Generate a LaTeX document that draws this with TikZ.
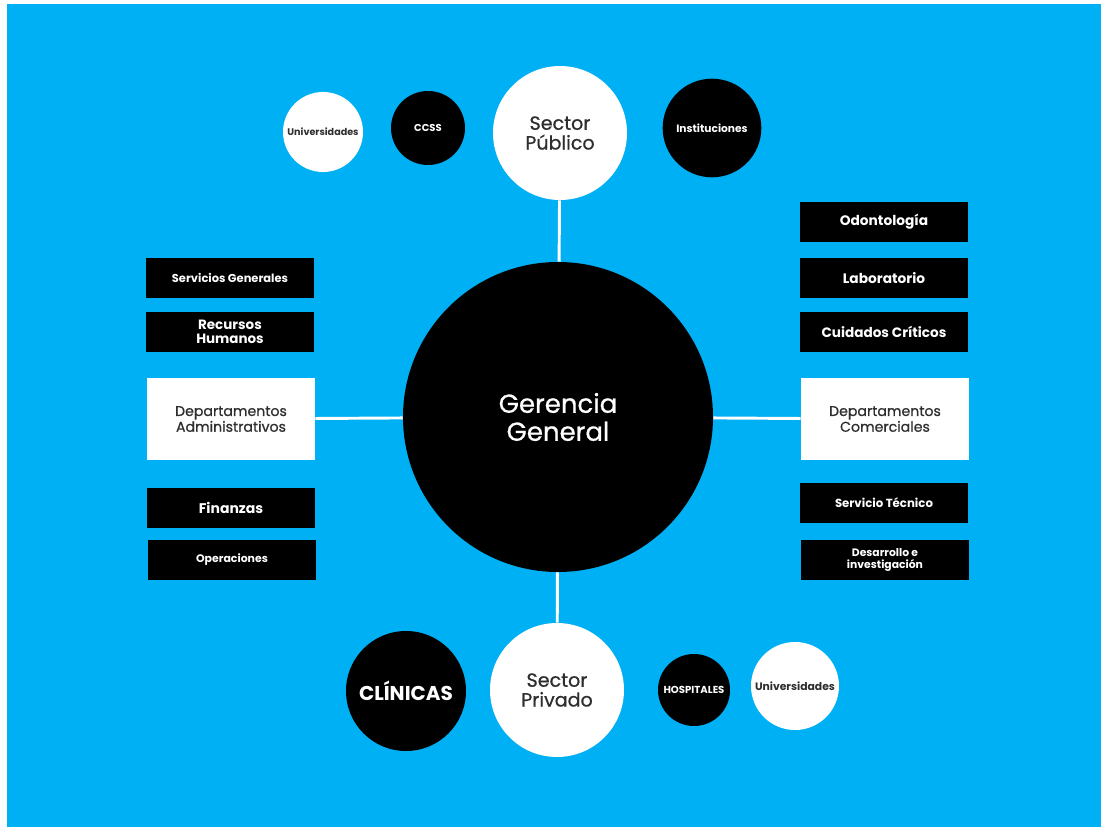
\documentclass[tikz,border=0pt]{standalone}
\usepackage{fontspec}
\setmainfont{Poppins}
\newfontfamily\mediumfont{Poppins}[FakeBold=0.7]
\definecolor{skyblue}{HTML}{00B0F5}
\definecolor{darktext}{HTML}{2E2E2E}
\begin{document}
\begin{tikzpicture}[x=0.75pt,y=-0.75pt,
  blackcirc/.style={circle, fill=black, inner sep=0pt, text=white, align=center},
  whitecirc/.style={circle, fill=white, inner sep=0pt, text=darktext, align=center},
  blackbox/.style={fill=black, text=white, inner sep=0pt, minimum width=126pt, minimum height=30pt, align=center, font=\bfseries\fontsize{8.2}{9}\selectfont},
  whitebox/.style={fill=white, text=darktext, inner sep=0pt, minimum width=126pt, minimum height=61.5pt, align=center, font=\mediumfont\fontsize{10.6}{10.8}\selectfont},
  link/.style={draw=white, line width=2.2pt}]
\useasboundingbox (0,0) rectangle (1101,827);
\fill[skyblue] (7,4) rectangle (1101,827);

\node[blackcirc, minimum size=232.5pt, font=\mediumfont\fontsize{19.5}{21}\selectfont] (gerencia) at (558,417) {Gerencia\\General};

\node[whitecirc, minimum size=100.5pt, font=\mediumfont\fontsize{14.3}{14.8}\selectfont] (publico) at (560,133) {Sector\\Público};
\node[whitecirc, minimum size=100.5pt, font=\mediumfont\fontsize{14.3}{14.8}\selectfont] (privado) at (557,690) {Sector\\Privado};

\node[whitecirc, minimum size=60pt, font=\bfseries\fontsize{7.2}{8}\selectfont] (univ1) at (323,132) {Universidades};
\node[blackcirc, minimum size=55.5pt, font=\bfseries\fontsize{7.5}{8}\selectfont] (ccss) at (428,128) {CCSS};
\node[blackcirc, minimum size=74pt, font=\bfseries\fontsize{8}{9}\selectfont] (instit) at (712,128) {Instituciones};

\node[blackcirc, minimum size=90pt, font=\bfseries\fontsize{15}{16}\selectfont] (clinicas) at (406,691) {CLÍNICAS};
\node[blackcirc, minimum size=54pt, font=\bfseries\fontsize{7.6}{8}\selectfont] (hospit) at (694,690) {HOSPITALES};
\node[whitecirc, minimum size=66pt, font=\bfseries\fontsize{8.1}{9}\selectfont] (univ2) at (795,686) {Universidades};

% departamentos administrativos
\node[blackbox, font=\bfseries\fontsize{8.6}{9}\selectfont] (servgen) at (230,278) {Servicios Generales};
\node[blackbox, font=\bfseries\fontsize{10.1}{10.5}\selectfont] (rrhh) at (230,332) {Recursos\\Humanos};
\node[whitebox] (admin) at (231,419) {Departamentos\\Administrativos};
\node[blackbox, font=\bfseries\fontsize{10.5}{11}\selectfont] (finanzas) at (231,508) {Finanzas};
\node[blackbox] (operac) at (232,560) {Operaciones};

% departamentos comerciales
\node[blackbox, font=\bfseries\fontsize{10.3}{11}\selectfont] (odonto) at (884,222) {Odontología};
\node[blackbox, font=\bfseries\fontsize{10.3}{11}\selectfont] (labor) at (884,278) {Laboratorio};
\node[blackbox, font=\bfseries\fontsize{10.2}{11}\selectfont] (cuidados) at (884,332) {Cuidados Críticos};
\node[whitebox] (comerc) at (885,419) {Departamentos\\Comerciales};
\node[blackbox, font=\bfseries\fontsize{8.8}{9}\selectfont] (servtec) at (884,503) {Servicio Técnico};
\node[blackbox, font=\bfseries\fontsize{8.1}{9}\selectfont] (desarr) at (885,560) {Desarrollo e\\investigación};

\path[link] (publico) -- (gerencia);
\path[link] (gerencia) -- (privado);
\path[link] (admin) -- (gerencia);
\path[link] (gerencia) -- (comerc);
\end{tikzpicture}
\end{document}
